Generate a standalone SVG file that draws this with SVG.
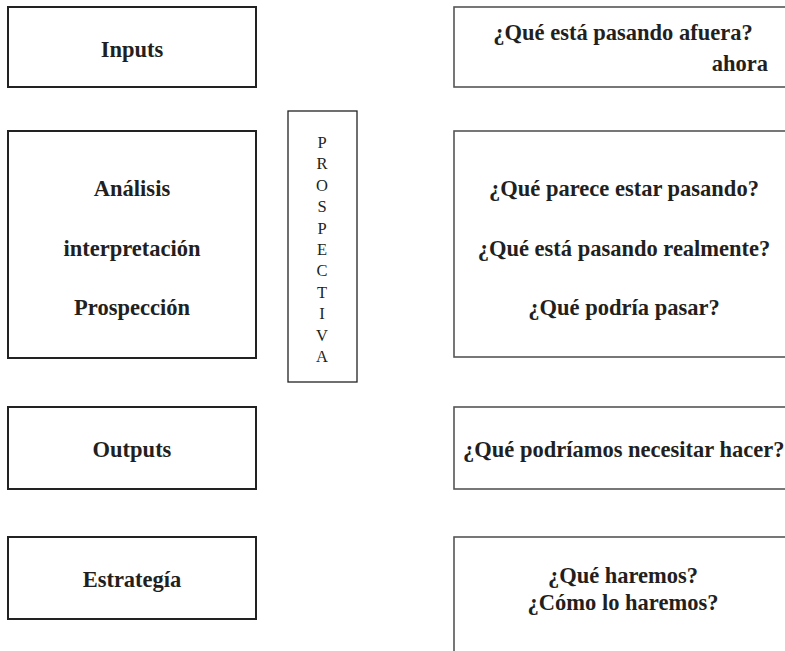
<svg xmlns="http://www.w3.org/2000/svg" width="785" height="651" viewBox="0 0 785 651">
<style>
.bg{fill:#fff}
.lbox{fill:none;stroke:#222;stroke-width:2}
.rbox{fill:none;stroke:#555;stroke-width:1.6}
.pbox{fill:none;stroke:#222;stroke-width:1.3}
text{font-family:"Liberation Serif","Times New Roman",serif;font-weight:bold;font-size:22.5px;fill:#231f20}
.c{text-anchor:middle}
.v{font-weight:normal;font-size:16.5px;text-anchor:middle}
</style>
<rect class="bg" x="0" y="0" width="785" height="651"/>
<g id="inputs"><rect class="lbox" x="8" y="7" width="248" height="80"/><text class="c" x="132" y="57">Inputs</text></g>
<g id="analisis"><rect class="lbox" x="8" y="131" width="248" height="227"/>
<text class="c" x="132" y="196">Análisis</text>
<text class="c" x="132" y="256">interpretación</text>
<text class="c" x="132" y="315">Prospección</text></g>
<g id="outputs"><rect class="lbox" x="8" y="407" width="248" height="82"/><text class="c" x="132" y="457">Outputs</text></g>
<g id="estrategia"><rect class="lbox" x="8" y="537" width="248" height="82"/><text class="c" x="132" y="587">Estrategía</text></g>
<g id="prospectiva"><rect class="pbox" x="288" y="111" width="69" height="271"/>
<text class="v" x="322" y="148">P</text>
<text class="v" x="322" y="169.4">R</text>
<text class="v" x="322" y="190.8">O</text>
<text class="v" x="322" y="212.2">S</text>
<text class="v" x="322" y="233.6">P</text>
<text class="v" x="322" y="255">E</text>
<text class="v" x="322" y="276.4">C</text>
<text class="v" x="322" y="297.8">T</text>
<text class="v" x="322" y="319.2">I</text>
<text class="v" x="322" y="340.6">V</text>
<text class="v" x="322" y="362">A</text></g>
<g id="q-inputs"><rect class="rbox" x="454" y="7" width="340" height="80"/>
<text class="c" x="623" y="40">¿Qué está pasando afuera?</text>
<text x="768" y="71" text-anchor="end">ahora</text></g>
<g id="q-analisis"><rect class="rbox" x="454" y="131" width="340" height="226"/>
<text class="c" x="624" y="196">¿Qué parece estar pasando?</text>
<text class="c" x="624" y="256">¿Qué está pasando realmente?</text>
<text class="c" x="624" y="315">¿Qué podría pasar?</text></g>
<g id="q-outputs"><rect class="rbox" x="454" y="407" width="340" height="82"/>
<text x="463" y="457">¿Qué podríamos necesitar hacer?</text></g>
<g id="q-estrategia"><rect class="rbox" x="454" y="537" width="340" height="130"/>
<text class="c" x="623" y="583">¿Qué haremos?</text>
<text class="c" x="623" y="610">¿Cómo lo haremos?</text></g>
<g id="connectors"></g>
</svg>
